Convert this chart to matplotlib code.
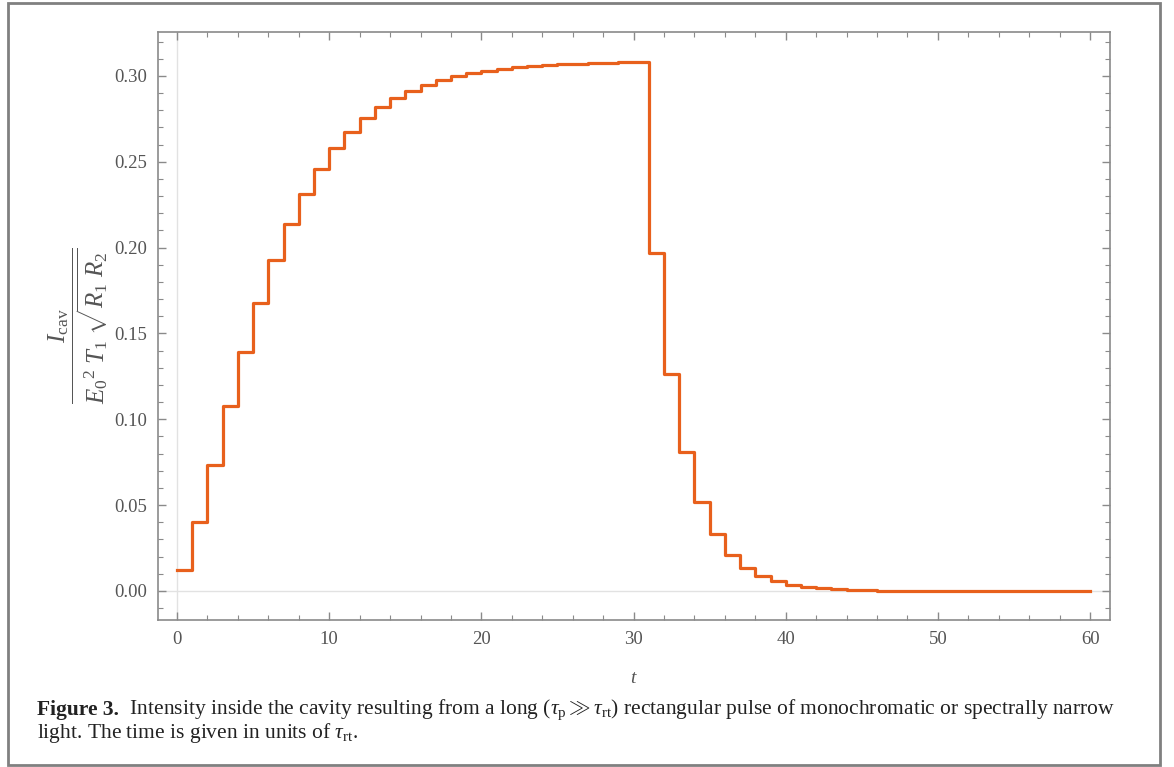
import matplotlib
matplotlib.use("Agg")
import matplotlib.pyplot as plt
from matplotlib.ticker import MultipleLocator, FormatStrFormatter
from matplotlib.patches import Rectangle

# ---- data ----
t_start = list(range(0, 60))  # left edges of each round-trip interval
intensity = [
    0.01234, 0.04000, 0.07349, 0.10757, 0.13949, 0.16801, 0.19274, 0.21374,
    0.23132, 0.24589, 0.25786, 0.26764, 0.27560, 0.28205, 0.28727, 0.29147,
    0.29486, 0.29758, 0.29977, 0.30153, 0.30293, 0.30406, 0.30497, 0.30569,
    0.30627, 0.30674, 0.30711, 0.30741, 0.30765, 0.30784, 0.30799,
    0.19711, 0.12615, 0.08074, 0.05167, 0.03307, 0.02116, 0.01355, 0.00867,
    0.00555, 0.00355, 0.00227, 0.00145, 0.00093, 0.00060, 0.00038, 0.00024,
    0.00016, 0.00010, 0.00006, 0.00004, 0.00003, 0.00002, 0.00001, 0.00001,
    0.00000, 0.00000, 0.00000, 0.00000, 0.00000,
]
t_end = 60
x_ticks = [0, 10, 20, 30, 40, 50, 60]
y_ticks = [0.00, 0.05, 0.10, 0.15, 0.20, 0.25, 0.30]

plt.rcParams['font.family'] = ['Liberation Serif', 'DejaVu Serif']
plt.rcParams['mathtext.fontset'] = 'custom'
plt.rcParams['mathtext.rm'] = 'Liberation Serif'
plt.rcParams['mathtext.it'] = 'Liberation Serif:italic'
plt.rcParams['mathtext.bf'] = 'Liberation Serif:bold'

W, H = 1174, 767
fig = plt.figure(figsize=(W / 100, H / 100), dpi=100)

# outer figure border
fig.patches.append(Rectangle((7.5 / W, 2.5 / H), (1159.5 - 7.5) / W, (764 - 2.5) / H,
                             transform=fig.transFigure, fill=False,
                             edgecolor='#808080', linewidth=2.0))

ax = fig.add_axes([158 / W, 1 - 620 / H, (1110 - 158) / W, (620 - 32) / H])

frame_col = '#8a8a8a'
tick_lab_col = '#555555'

xs = t_start + [t_end]
ys = intensity + [intensity[-1]]
ax.step(xs, ys, where='post', color='#E8601C', linewidth=2.3, zorder=3)

# Mathematica-style axes lines at x=0 and y=0
ax.axhline(0, color='#e2e2e2', linewidth=1.0, zorder=1)
ax.axvline(0, color='#e2e2e2', linewidth=1.0, zorder=1)

ax.set_xlim(-1.25, 61.31)
ax.set_ylim(-0.0169, 0.3256)

ax.set_xticks(x_ticks)
ax.set_yticks(y_ticks)
ax.xaxis.set_minor_locator(MultipleLocator(2))
ax.yaxis.set_minor_locator(MultipleLocator(0.01))
ax.yaxis.set_major_formatter(FormatStrFormatter('%.2f'))

for s in ax.spines.values():
    s.set_color(frame_col)
    s.set_linewidth(1.2)

ax.tick_params(which='both', direction='in', top=True, right=True,
               color=frame_col, labelcolor=tick_lab_col, labelsize=13.5)
ax.tick_params(which='major', length=6, width=1.0, pad=8)
ax.tick_params(which='minor', length=3.5, width=0.8)

ax.set_xlabel(r'$t$', fontsize=14, color=tick_lab_col, labelpad=16)
ax.set_ylabel(r'$\dfrac{I_{\mathrm{cav}}}{E_0{}^2\ T_1\ \sqrt{R_1\ R_2}}$',
              fontsize=18, color=tick_lab_col, labelpad=3)

# caption
cap1 = fig.text(37 / W, 1 - 710 / H, 'Figure 3.', fontsize=15.5, fontweight='bold',
                color='#222222', va='center', ha='left')
ax.annotate(r'  Intensity inside the cavity resulting from a long ($\tau_{\mathrm{p}} \gg \tau_{\mathrm{rt}}$) '
            r'rectangular pulse of monochromatic or spectrally narrow',
            xy=(1, 0.5), xycoords=cap1, va='center', ha='left',
            fontsize=15.5, color='#222222', annotation_clip=False)
fig.text(37 / W, 1 - 733 / H, r'light. The time is given in units of $\tau_{\mathrm{rt}}$.',
         fontsize=15.5, color='#222222', va='center', ha='left')

fig.savefig('out.png', dpi=100)
